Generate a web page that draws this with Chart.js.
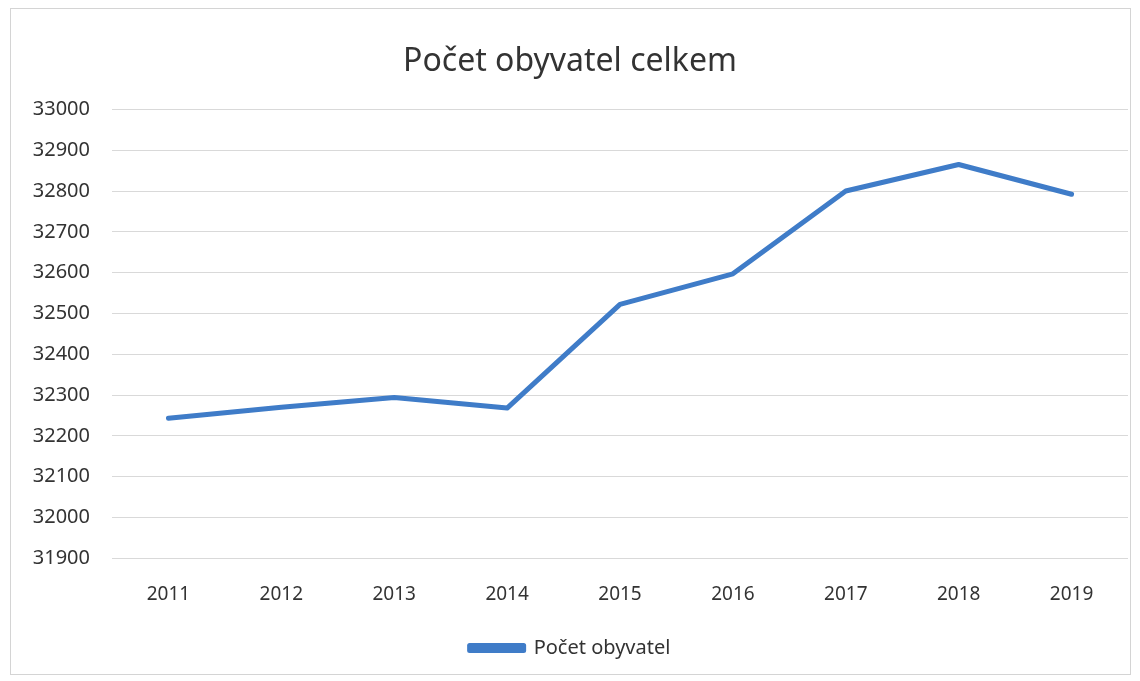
<!DOCTYPE html>
<html>
<head>
<meta charset="utf-8">
<script src="https://cdn.jsdelivr.net/npm/chart.js@4"></script>
<style>
  html, body { margin: 0; padding: 0; background: #fff; }
  #wrap { width: 1140px; height: 681px; position: relative; }
</style>
</head>
<body>
<div id="wrap"><canvas id="c" width="1140" height="681"></canvas></div>
<script>
const years = ['2011', '2012', '2013', '2014', '2015', '2016', '2017', '2018', '2019'];
const population = [32243, 32270, 32294, 32268, 32522, 32597, 32800, 32865, 32792];
const seriesLabel = 'Počet obyvatel';
const chartTitle = 'Počet obyvatel celkem';
const yMin = 31900, yMax = 33000, yStep = 100;

const FONT = "'Noto Sans', 'Open Sans', sans-serif";
const TXT = '#333333';
const BLUE = '#3f7cc8';

const frame = {
  id: 'frame',
  beforeDraw(chart) {
    const ctx = chart.ctx;
    ctx.save();
    ctx.strokeStyle = '#d4d4d4';
    ctx.lineWidth = 1;
    ctx.strokeRect(10.5, 8.5, 1120, 666);
    ctx.restore();
  }
};

new Chart(document.getElementById('c'), {
  type: 'line',
  data: {
    labels: years,
    datasets: [{
      label: seriesLabel,
      data: population,
      borderColor: BLUE,
      backgroundColor: BLUE,
      borderWidth: 5,
      pointRadius: 0,
      pointHoverRadius: 0,
      tension: 0,
      borderCapStyle: 'round',
      borderJoinStyle: 'round',
      fill: false
    }]
  },
  options: {
    responsive: false,
    animation: false,
    devicePixelRatio: 1,
    layout: { padding: { left: 12, right: 12, top: 0, bottom: 13 } },
    plugins: {
      title: {
        display: true,
        text: chartTitle,
        color: TXT,
        font: { family: FONT, size: 32, weight: 'normal' },
        padding: { top: 43, bottom: 28 }
      },
      legend: {
        display: true,
        position: 'bottom',
        labels: {
          color: TXT,
          font: { family: FONT, size: 20 },
          boxWidth: 54,
          boxHeight: 5,
          padding: 7
        }
      },
      tooltip: { enabled: false }
    },
    scales: {
      x: {
        offset: true,
        grid: { display: false, drawTicks: false },
        border: { display: false },
        ticks: { color: TXT, font: { family: FONT, size: 19 }, padding: 25, maxRotation: 0 }
      },
      y: {
        min: yMin,
        max: yMax,
        afterFit(scale) { scale.width = 100; },
        grid: { color: '#d9d9d9', drawTicks: false, lineWidth: 1 },
        border: { display: false },
        ticks: {
          stepSize: yStep, color: TXT, font: { family: FONT, size: 20 }, padding: 22,
          callback: (v) => String(v)
        }
      }
    }
  },
  plugins: [frame]
});
</script>
</body>
</html>
